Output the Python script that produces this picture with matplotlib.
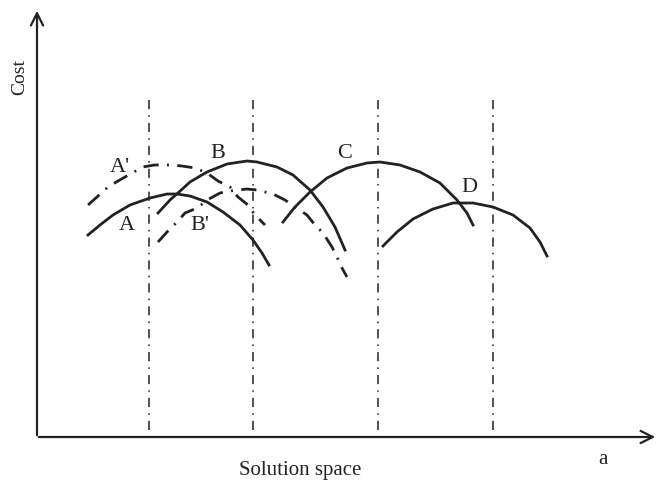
import matplotlib.pyplot as plt

# points (x to the right, y downward like the image)
a_x = [88, 100, 113, 130, 150, 167, 177, 190, 207, 223, 240, 253, 262, 269]
a_y = [235, 225, 215, 205, 198, 194, 194, 196, 202, 212, 225, 240, 253, 265]

b_x = [158, 170, 178, 190, 207, 227, 247, 257, 277, 293, 310, 323, 335, 345]
b_y = [213, 200, 193, 182, 172, 164, 161, 162, 167, 175, 190, 207, 227, 250]

c_x = [283, 295, 310, 327, 347, 367, 380, 400, 420, 440, 457, 467, 473]
c_y = [222, 207, 192, 178, 168, 163, 162, 165, 172, 183, 200, 213, 225]

d_x = [383, 397, 413, 433, 453, 473, 493, 513, 530, 540, 547]
d_y = [246, 232, 219, 209, 203, 203, 207, 215, 228, 242, 256]

a2_x = [88, 97, 108, 118, 132, 143, 154, 170, 182, 195, 207, 218, 230, 238, 248, 255, 265]
a2_y = [205, 197, 187, 181, 173, 167, 165, 165, 166, 168, 173, 181, 187, 197, 205, 215, 225]

b2_x = [158, 167, 177, 185, 197, 209, 220, 230, 247, 257, 273, 285, 295, 307, 315, 323, 332, 337, 342, 347]
b2_y = [242, 232, 222, 213, 208, 199, 193, 191, 189, 190, 194, 200, 207, 215, 225, 233, 247, 257, 268, 277]

vlines_x = [149, 253, 378, 493]

labels = ["A'", "A", "B", "B'", "C", "D"]
label_x = [120, 127, 218, 200, 345, 469]
label_y = [168, 226, 153, 225, 154, 187]

fig = plt.figure(figsize=(6.58, 4.91), dpi=100)
ax = fig.add_axes([0, 0, 1, 1])
ax.set_xlim(0, 658)
ax.set_ylim(491, 0)
ax.axis('off')

ink = '#222222'

for vx in vlines_x:
    ax.plot([vx, vx], [100, 437], color=ink, lw=1.1, linestyle=(0, (6, 4, 1, 4)))

for xs, ys in [(a_x, a_y), (b_x, b_y), (c_x, c_y), (d_x, d_y)]:
    ax.plot(xs, ys, color=ink, lw=2.0, solid_joinstyle='round')

for xs, ys in [(a2_x, a2_y), (b2_x, b2_y)]:
    ax.plot(xs, ys, color=ink, lw=2.0, linestyle=(0, (5.5, 3, 0.7, 3)))

# axes with arrows
ax.annotate('', xy=(658, 437), xytext=(36, 437),
            arrowprops=dict(arrowstyle='->', lw=1.6, color=ink, mutation_scale=22))
ax.annotate('', xy=(37, 8), xytext=(37, 438),
            arrowprops=dict(arrowstyle='->', lw=1.6, color=ink, mutation_scale=22))

font = dict(family='Liberation Serif', color=ink)
for t, lx, ly in zip(labels, label_x, label_y):
    ax.text(lx, ly, t, fontsize=16, ha='center', va='center', **font)

ax.text(20, 77, 'Cost', fontsize=14, rotation=90, ha='center', va='center', **font)
ax.text(300, 470, 'Solution space', fontsize=15, ha='center', va='center', **font)
ax.text(603, 459, 'a', fontsize=15, ha='center', va='center', **font)

fig.savefig('out.png', dpi=100)
